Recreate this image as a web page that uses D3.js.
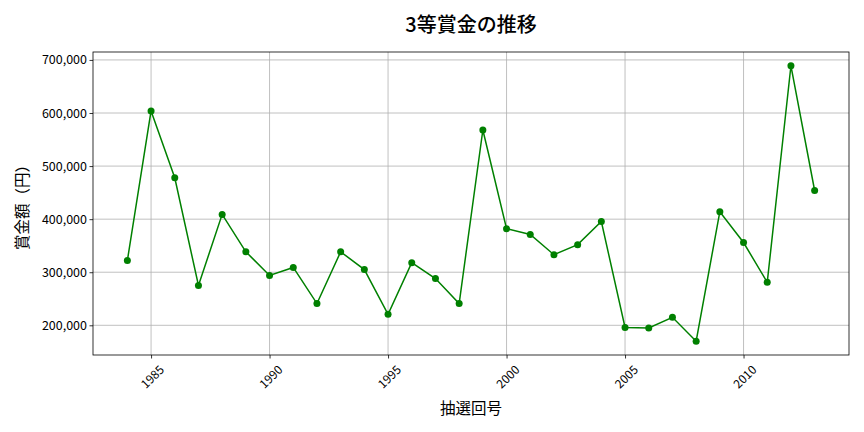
<!DOCTYPE html>
<html>
<head>
<meta charset="utf-8">
<script src="https://cdn.jsdelivr.net/npm/d3@7"></script>
<style>
  body { margin: 0; background: #fff; }
  svg { font-family: "Noto Sans CJK JP", "Noto Sans", sans-serif; }
</style>
</head>
<body>
<div id="chart"></div>
<script>
// data
const years = [1984, 1985, 1986, 1987, 1988, 1989, 1990, 1991, 1992, 1993,
    1994, 1995, 1996, 1997, 1998, 1999, 2000, 2001, 2002, 2003,
    2004, 2005, 2006, 2007, 2008, 2009, 2010, 2011, 2012, 2013];
const prizes = [322000, 604000, 478000, 275000, 409000, 338500, 294000, 309000, 241000, 338500,
    305000, 220700, 318000, 288000, 241000, 568000, 382000, 371000, 333000, 352000,
    395500, 196000, 195000, 215000, 170000, 414000, 356000, 281000, 689000, 454000];
const xTicks = [1985, 1990, 1995, 2000, 2005, 2010];
const yTicks = [200000, 300000, 400000, 500000, 600000, 700000];

const W = 864, H = 432;
const margin = { top: 52, right: 15, bottom: 77, left: 93 };
const width = W - margin.left - margin.right;
const height = H - margin.top - margin.bottom;
const fontCJK = '"Noto Sans CJK JP", "Noto Sans", sans-serif';

const svg = d3.select('#chart')
    .append('svg')
    .attr('width', W)
    .attr('height', H);

const g = svg.append('g')
    .attr('transform', `translate(${margin.left},${margin.top})`);

// matplotlib style 5% padding
const xExt = d3.extent(years), yExt = d3.extent(prizes);
const xPad = (xExt[1] - xExt[0]) * 0.05, yPad = (yExt[1] - yExt[0]) * 0.05;
const x = d3.scaleLinear().domain([xExt[0] - xPad, xExt[1] + xPad]).range([0, width]);
const y = d3.scaleLinear().domain([yExt[0] - yPad, yExt[1] + yPad]).range([height, 0]);

// grid
g.append('g')
    .selectAll('line')
    .data(xTicks)
    .enter()
    .append('line')
    .attr('x1', d => x(d)).attr('x2', d => x(d))
    .attr('y1', 0).attr('y2', height)
    .attr('stroke', '#b0b0b0').attr('stroke-width', 0.8);
g.append('g')
    .selectAll('line')
    .data(yTicks)
    .enter()
    .append('line')
    .attr('y1', d => y(d)).attr('y2', d => y(d))
    .attr('x1', 0).attr('x2', width)
    .attr('stroke', '#b0b0b0').attr('stroke-width', 0.8);

// axes
const xAxis = g.append('g')
    .attr('transform', `translate(0,${height})`)
    .call(d3.axisBottom(x).tickValues(xTicks).tickFormat(d3.format('d')).tickSize(3.5).tickSizeOuter(0))
    .attr('font-family', fontCJK);
xAxis.select('.domain').remove();
xAxis.selectAll('.tick line').attr('stroke', '#000').attr('stroke-width', 0.8);
xAxis.selectAll('.tick text')
    .attr('y', 0).attr('dy', null)
    .attr('font-size', 12)
    .attr('fill', '#000')
    .attr('text-anchor', 'middle')
    .attr('dominant-baseline', 'central')
    .attr('transform', 'translate(0,21) rotate(-45)');

const yAxis = g.append('g')
    .call(d3.axisLeft(y).tickValues(yTicks).tickFormat(d3.format(',')).tickSize(3.5).tickSizeOuter(0))
    .attr('font-family', fontCJK);
yAxis.select('.domain').remove();
yAxis.selectAll('.tick line').attr('stroke', '#000').attr('stroke-width', 0.8);
yAxis.selectAll('.tick text')
    .attr('font-size', 12.5)
    .attr('fill', '#000')
    .attr('x', -6);

// frame
g.append('rect')
    .attr('width', width).attr('height', height)
    .attr('fill', 'none')
    .attr('stroke', '#000').attr('stroke-width', 0.8);

// line + markers
const line = d3.line()
    .x((d, i) => x(years[i]))
    .y(d => y(d));
g.append('path')
    .datum(prizes)
    .attr('d', line)
    .attr('fill', 'none')
    .attr('stroke', 'green')
    .attr('stroke-width', 1.5);
g.selectAll('.dot')
    .data(prizes)
    .enter()
    .append('circle')
    .attr('class', 'dot')
    .attr('cx', (d, i) => x(years[i]))
    .attr('cy', d => y(d))
    .attr('r', 3.5)
    .attr('fill', 'green');

// titles
svg.append('text')
    .attr('x', margin.left + width / 2)
    .attr('y', 32)
    .attr('text-anchor', 'middle')
    .attr('font-size', 20)
    .attr('font-weight', 500)
    .text('3等賞金の推移');
svg.append('text')
    .attr('x', margin.left + width / 2)
    .attr('y', 414)
    .attr('text-anchor', 'middle')
    .attr('font-size', 15.5)
    .text('抽選回号');
svg.append('text')
    .attr('transform', `translate(28,${margin.top + height / 2}) rotate(-90)`)
    .attr('text-anchor', 'middle')
    .attr('font-size', 15.5)
    .text('賞金額（円）');
</script>
</body>
</html>
